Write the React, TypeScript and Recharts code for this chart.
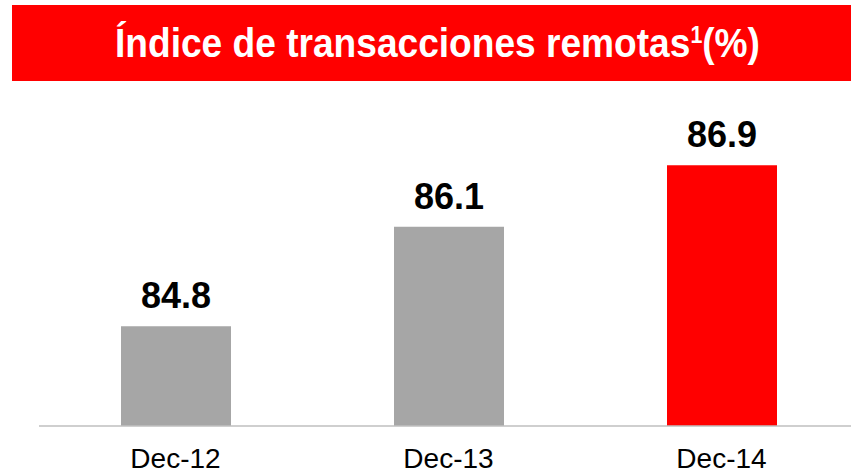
import React from 'react';
import { BarChart, Bar, XAxis, YAxis, Cell, LabelList } from 'recharts';

const periods = ['Dec-12', 'Dec-13', 'Dec-14'];
const remoteIndex = [84.8, 86.1, 86.9];

const BAR_COLORS = ['#a6a6a6', '#a6a6a6', '#ff0000'];
const FONT = '"Liberation Sans", Arial, sans-serif';

const chartData = periods.map((p, i) => ({ period: p, value: remoteIndex[i] }));

const TitleBanner = () => (
  <svg width={851} height={90} style={{ position: 'absolute', left: 0, top: 0 }}>
    <rect x={12} y={5} width={839} height={76} fill="#ff0000" />
    <text
      x={115}
      y={57}
      fill="#ffffff"
      fontFamily={FONT}
      fontWeight="bold"
      fontSize={40}
      textLength={645}
      lengthAdjust="spacingAndGlyphs"
    >
      Índice de transacciones remotas
      <tspan dy={-14} fontSize={23}>1</tspan>
      <tspan dy={14}>(%)</tspan>
    </text>
  </svg>
);

export default function App() {
  return (
    <div style={{ position: 'absolute', left: 0, top: 0, width: 851, height: 472, overflow: 'hidden', background: '#fff' }}>
      <TitleBanner />
      <div style={{ position: 'absolute', left: 0, top: 0 }}>
        <BarChart
          width={858}
          height={472}
          data={chartData}
          margin={{ top: 104, right: 0, left: 39, bottom: 0 }}
          barCategoryGap={0}
        >
          <XAxis
            dataKey="period"
            height={46}
            axisLine={{ stroke: '#bfbfbf', strokeWidth: 1.5 }}
            tickLine={false}
            tickMargin={16}
            tick={{ fill: '#000000', fontSize: 28, fontFamily: FONT }}
            interval={0}
          />
          <YAxis hide domain={[83.5, 87.7]} allowDataOverflow />
          <Bar dataKey="value" barSize={110} isAnimationActive={false}>
            {chartData.map((d, i) => (
              <Cell key={d.period} fill={BAR_COLORS[i]} />
            ))}
            <LabelList
              dataKey="value"
              position="top"
              offset={18}
              formatter={(v: number) => v.toFixed(1)}
              style={{ fill: '#000000', fontSize: 36, fontWeight: 'bold', fontFamily: FONT }}
            />
          </Bar>
        </BarChart>
      </div>
    </div>
  );
}
